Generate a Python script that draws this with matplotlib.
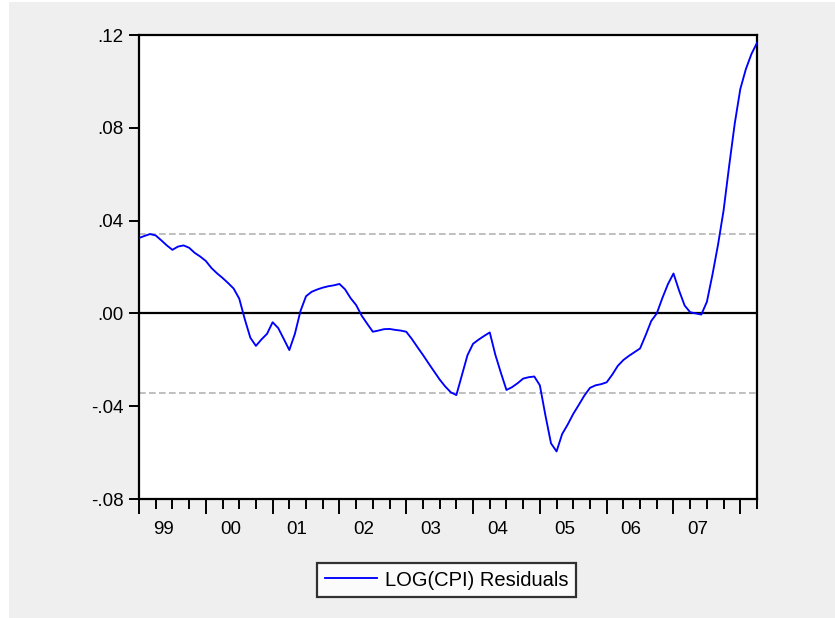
import matplotlib
matplotlib.use("Agg")
import matplotlib.pyplot as plt
from matplotlib.patches import Rectangle
from matplotlib.lines import Line2D

plt.rcParams['font.family'] = ['Liberation Sans', 'DejaVu Sans']

# Monthly residuals, 1999M01 .. 2008M04
start_year = 1999
residuals = [
    0.0325, 0.0334, 0.0342, 0.0336, 0.0315, 0.0293, 0.0274, 0.0288, 0.0293, 0.0283, 0.0261, 0.0245,
    0.0226, 0.0196, 0.0173, 0.0153, 0.0131, 0.0107, 0.0064, -0.0025, -0.0105, -0.0140, -0.0112, -0.0088,
    -0.0038, -0.0063, -0.0110, -0.0158, -0.0088, 0.0010, 0.0074, 0.0093, 0.0103, 0.0111, 0.0117, 0.0121,
    0.0127, 0.0104, 0.0066, 0.0036, -0.0010, -0.0045, -0.0079, -0.0074, -0.0068, -0.0067, -0.0071, -0.0074,
    -0.0079, -0.0110, -0.0145, -0.0179, -0.0215, -0.0250, -0.0285, -0.0315, -0.0340, -0.0352, -0.0266, -0.0180,
    -0.0131, -0.0113, -0.0097, -0.0082, -0.0178, -0.0256, -0.0330, -0.0318, -0.0301, -0.0281, -0.0275, -0.0272,
    -0.0310, -0.0440, -0.0560, -0.0595, -0.0520, -0.0479, -0.0433, -0.0394, -0.0354, -0.0321, -0.0310, -0.0305,
    -0.0297, -0.0264, -0.0226, -0.0201, -0.0183, -0.0167, -0.0151, -0.0094, -0.0033, 0.0000, 0.0066, 0.0126,
    0.0172, 0.0099, 0.0034, 0.0005, 0.0000, -0.0005, 0.0050, 0.0167, 0.0296, 0.0444, 0.0636, 0.0818,
    0.0967, 0.1053, 0.1118, 0.1166,
]
std_band = 0.0343
year_labels = ["99", "00", "01", "02", "03", "04", "05", "06", "07"]
y_ticks = [-0.08, -0.04, 0.00, 0.04, 0.08, 0.12]
y_tick_labels = ["-.08", "-.04", ".00", ".04", ".08", ".12"]
series_name = "LOG(CPI) Residuals"

W, H = 835, 618
fig = plt.figure(figsize=(W / 100, H / 100), dpi=100, facecolor="white")
fig.patches.append(Rectangle((9 / W, 0), 1 - 9 / W, 1 - 2 / H, transform=fig.transFigure,
                             facecolor="#EFEFEF", edgecolor="none", zorder=-10))

ax = fig.add_axes([139 / W, 1 - 499 / H, 618 / W, 464 / H])
ax.set_facecolor("white")

n = len(residuals)
x = list(range(n))
ax.axhline(0, color="black", lw=1.6, zorder=2)
ax.axhline(std_band, color="#B4B4B4", lw=1.2, ls=(0, (4, 2)), zorder=1)
ax.axhline(-std_band, color="#B4B4B4", lw=1.2, ls=(0, (4, 2)), zorder=1)
ax.plot(x, residuals, color="#0000FF", lw=1.35, zorder=3)

ax.set_xlim(0, n - 1)
ax.set_ylim(-0.08, 0.12)

for s in ax.spines.values():
    s.set_linewidth(1.6)
    s.set_color("black")

ax.set_yticks(y_ticks)
ax.set_yticklabels(y_tick_labels)
ax.tick_params(axis="y", direction="out", length=7, width=1.4, pad=4, labelsize=13.5)

major = list(range(0, n, 12))
minor = [q for q in range(0, n, 3) if q % 12 != 0]
ax.set_xticks(major)
ax.set_xticklabels([])
ax.set_xticks(minor, minor=True)
ax.tick_params(axis="x", which="major", direction="out", length=11, width=1.4)
ax.tick_params(axis="x", which="minor", direction="out", length=7, width=1.4)

xt = ax.get_xaxis_transform()
for k, lab in enumerate(year_labels):
    ax.text(12 * k + 4.4, -30 / 464, lab, transform=xt, ha="center", va="center", fontsize=13.5)

handle = Line2D([], [], color="#0000FF", lw=1.35)
leg = fig.legend([handle], [series_name], loc="center", bbox_to_anchor=(446.5 / W, 1 - 580 / H),
                 frameon=True, fancybox=False, fontsize=14.5, handlelength=2.6, handletextpad=0.4,
                 borderpad=0.35, borderaxespad=0)
leg.get_frame().set_edgecolor("black")
leg.get_frame().set_linewidth(1.6)

fig.savefig("out.png", dpi=100, facecolor=fig.get_facecolor())
